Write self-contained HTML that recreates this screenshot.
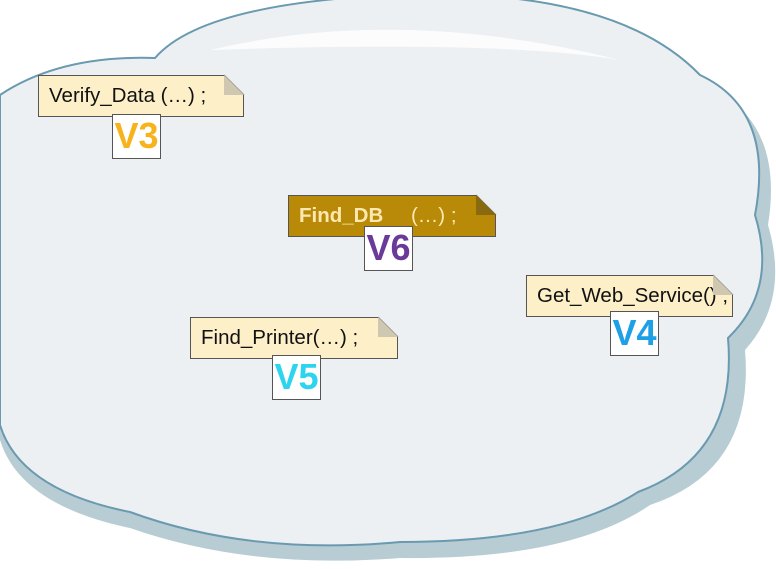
<!DOCTYPE html>
<html><head><style>
body{margin:0;width:776px;height:569px;background:#fff;overflow:hidden;position:relative;font-family:"Liberation Sans",sans-serif}
svg{position:absolute;left:0;top:0}
.n{position:absolute;background:#fdf0c8;border:1px solid #555;box-shadow:2px 2px 2px rgba(0,0,0,.35);font-size:20.5px;color:#111;box-sizing:border-box;padding-left:10px;line-height:40px;white-space:nowrap;clip-path:polygon(0 0,calc(100% - 20px) 0,100% 20px,100% 100%,0 100%)}
.f{position:absolute;width:20px;height:20px;background:#cfc7b0;clip-path:polygon(0 0,100% 100%,0 100%)}
.v{position:absolute;background:#fff;border:1px solid #555;font-weight:bold;font-size:36px;text-align:center;line-height:42px;box-sizing:border-box}
</style></head><body>
<svg width="776" height="569">
<path d="M 0,100 Q 60,62 160,68 Q 210,8 425,4 Q 625,2 705,85 Q 785,120 768,225 Q 790,300 745,350 Q 755,470 650,505 Q 570,560 400,558 Q 250,570 130,528 Q 20,505 0,440 Z" fill="#b8ccd4"/>
<path d="M 0,95 Q 60,55 155,58 Q 205,0 420,-6 Q 620,-8 700,75 Q 775,110 755,215 Q 778,290 728,338 Q 738,455 638,492 Q 560,542 400,542 Q 250,556 130,512 Q 20,490 0,425 Z" fill="#edf0f3" stroke="#6a9ab0" stroke-width="2"/>
<path d="M 210,50 Q 400,5 620,60 Q 500,40 210,50 Z" fill="#fff" opacity=".8"/>
<g stroke="#555" stroke-width="1">
<line x1="224" y1="75" x2="244" y2="95"/><line x1="476" y1="195" x2="496" y2="215"/><line x1="713" y1="275" x2="733" y2="295"/><line x1="378" y1="317" x2="398" y2="337"/>
</g>
</svg>
<div class="n" style="left:38px;top:75px;width:206px;height:42px">Verify_Data (…) ;</div>
<div class="f" style="left:224px;top:75px"></div>
<div class="v" style="left:112px;top:114px;width:49px;height:45px;color:#f7b31c">V3</div>
<div class="n" style="left:288px;top:195px;width:208px;height:42px;background:#b88a07;color:#fde9b0;font-weight:bold">Find_DB <span style="font-weight:normal;margin-left:22px">(…) ;</span></div>
<div class="f" style="left:476px;top:195px;background:#8a6a10"></div>
<div class="v" style="left:364px;top:226px;width:49px;height:45px;color:#6a3a9a">V6</div>
<div class="n" style="left:526px;top:275px;width:207px;height:42px">Get_Web_Service() ;</div>
<div class="f" style="left:713px;top:275px"></div>
<div class="v" style="left:610px;top:311px;width:49px;height:45px;color:#1ea0e6">V4</div>
<div class="n" style="left:190px;top:317px;width:208px;height:42px">Find_Printer(…) ;</div>
<div class="f" style="left:378px;top:317px"></div>
<div class="v" style="left:272px;top:355px;width:49px;height:45px;color:#2cd4ee">V5</div>
</body></html>
